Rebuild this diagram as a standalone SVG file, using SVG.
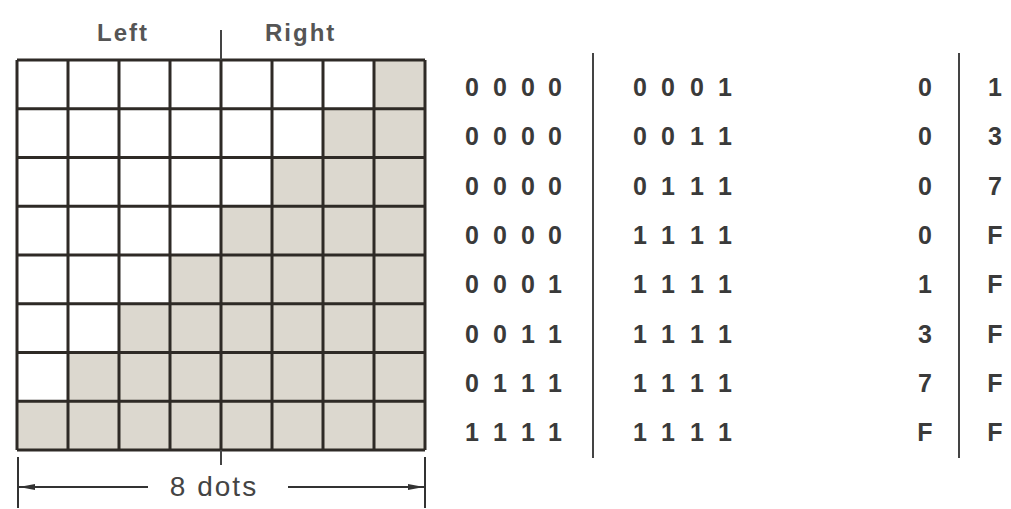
<svg xmlns="http://www.w3.org/2000/svg" width="1011" height="509" viewBox="0 0 1011 509">
<style>
.grid{stroke:#2e2a26;stroke-width:3;fill:none}
.on{fill:#dcd8cf}
.lbl{font-family:"Liberation Sans",Arial,sans-serif;font-weight:bold;font-size:24px;fill:#555;letter-spacing:2px}
.dig{font-family:"Liberation Sans",Arial,sans-serif;font-weight:bold;font-size:25px;fill:#3a3a3a;text-anchor:middle}
.div{stroke:#444;stroke-width:2}
.dim{stroke:#333;stroke-width:2;fill:none}
.dimt{font-family:"Liberation Sans",Arial,sans-serif;font-size:28px;fill:#444;letter-spacing:2px;text-anchor:middle}
</style>
<defs>
<marker id="ah" viewBox="0 0 16 8" refX="16" refY="4" markerWidth="16" markerHeight="8" markerUnits="userSpaceOnUse" orient="auto-start-reverse">
<path d="M0,1 L16,4 L0,7 Z" fill="#333"/>
</marker>
</defs>
<rect width="1011" height="509" fill="#fff"/>
<g id="labels">
<text class="lbl" x="97" y="41">Left</text>
<text class="lbl" x="265" y="41">Right</text>
</g>
<g id="grid">
<g id="shaded">
<rect class="on" x="374" y="60" width="51" height="48.75"/>
<rect class="on" x="323" y="108.75" width="102" height="48.75"/>
<rect class="on" x="272" y="157.5" width="153" height="48.75"/>
<rect class="on" x="221" y="206.25" width="204" height="48.75"/>
<rect class="on" x="170" y="255" width="255" height="48.75"/>
<rect class="on" x="119" y="303.75" width="306" height="48.75"/>
<rect class="on" x="68" y="352.5" width="357" height="48.75"/>
<rect class="on" x="17" y="401.25" width="408" height="48.75"/>
</g>
<path class="grid" d="M17,60H425M17,108.75H425M17,157.5H425M17,206.25H425M17,255H425M17,303.75H425M17,352.5H425M17,401.25H425M17,450H425M17,60V450M68,60V450M119,60V450M170,60V450M221,60V450M272,60V450M323,60V450M374,60V450M425,60V450"/>
<path class="div" d="M221,30V60M221,450V465"/>
</g>
<g id="col-left">
<text class="dig" x="472 500 528 555" y="96">0000</text>
<text class="dig" x="472 500 528 555" y="145">0000</text>
<text class="dig" x="472 500 528 555" y="195">0000</text>
<text class="dig" x="472 500 528 555" y="244">0000</text>
<text class="dig" x="472 500 528 555" y="293">0001</text>
<text class="dig" x="472 500 528 555" y="343">0011</text>
<text class="dig" x="472 500 528 555" y="392">0111</text>
<text class="dig" x="472 500 528 555" y="441">1111</text>
</g>
<g id="col-right">
<text class="dig" x="640 668 697 725" y="96">0001</text>
<text class="dig" x="640 668 697 725" y="145">0011</text>
<text class="dig" x="640 668 697 725" y="195">0111</text>
<text class="dig" x="640 668 697 725" y="244">1111</text>
<text class="dig" x="640 668 697 725" y="293">1111</text>
<text class="dig" x="640 668 697 725" y="343">1111</text>
<text class="dig" x="640 668 697 725" y="392">1111</text>
<text class="dig" x="640 668 697 725" y="441">1111</text>
</g>
<g id="col-hex">
<text class="dig" x="925 995" y="96">01</text>
<text class="dig" x="925 995" y="145">03</text>
<text class="dig" x="925 995" y="195">07</text>
<text class="dig" x="925 995" y="244">0F</text>
<text class="dig" x="925 995" y="293">1F</text>
<text class="dig" x="925 995" y="343">3F</text>
<text class="dig" x="925 995" y="392">7F</text>
<text class="dig" x="925 995" y="441">FF</text>
</g>
<g id="dividers">
<line class="div" x1="593" y1="53" x2="593" y2="458"/>
<line class="div" x1="959" y1="53" x2="959" y2="458"/>
</g>
<g id="dimension">
<line class="dim" x1="18" y1="457" x2="18" y2="508"/>
<line class="dim" x1="425" y1="457" x2="425" y2="508"/>
<line class="dim" x1="148" y1="487" x2="19" y2="487" marker-end="url(#ah)"/>
<line class="dim" x1="288" y1="487" x2="424" y2="487" marker-end="url(#ah)"/>
<text class="dimt" x="214" y="496">8 dots</text>
</g>
</svg>
